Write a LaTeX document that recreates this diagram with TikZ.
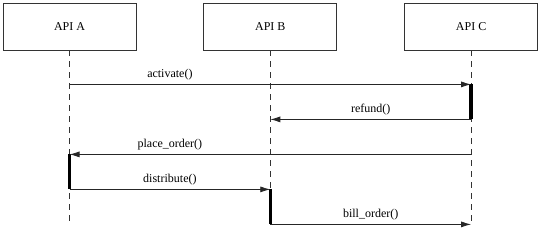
\documentclass[tikz,border=0pt]{standalone}
\usepackage{fontspec}
\setmainfont{Liberation Serif}
\usepackage{tikz}
\usetikzlibrary{arrows.meta, positioning}

\begin{document}
\begin{tikzpicture}[
  x=1pt, y=1pt,
  node distance=67pt,
  apibox/.style={rectangle, draw=black!80, line width=0.8pt, minimum width=133pt, minimum height=47pt, inner sep=0pt, font=\fontsize{12}{14}\selectfont},
  lifeline/.style={draw=black!80, line width=0.8pt, dash pattern=on 6pt off 5pt},
  msg/.style={draw=black!85, line width=0.8pt, -{Latex[length=10pt,width=6pt]}},
  msglabel/.style={above=0.5pt, font=\fontsize{12}{14}\selectfont},
  actbar/.style={draw=black, line width=3.5pt, xshift=-1pt}
]
\useasboundingbox (0,0) rectangle (540,-229);

% Participants
\node[apibox] (apia) at (69.5,-26.5) {API A};
\node[apibox, right=of apia] (apib) {API B};
\node[apibox, right=of apib] (apic) {API C};

% Lifeline ends
\coordinate[below=175pt of apia] (enda);
\coordinate[below=175pt of apib] (endb);
\coordinate[below=175pt of apic] (endc);

% Message points on the lifelines
\coordinate[below=34pt of apia] (a1);
\coordinate[below=34pt of apic] (c1);
\coordinate[below=69pt of apic] (c2);
\coordinate[below=69pt of apib] (b2);
\coordinate[below=104pt of apic] (c3);
\coordinate[below=104pt of apia] (a3);
\coordinate[below=139pt of apia] (a4);
\coordinate[below=139pt of apib] (b4);
\coordinate[below=174pt of apib] (b5);
\coordinate[below=174pt of apic] (c5);

% Lifelines
\draw[lifeline] (apia.south) -- (enda);
\draw[lifeline] (apib.south) -- (endb);
\draw[lifeline] (apic.south) -- (endc);

% Activation bars
\draw[actbar] (c1) -- (c2);
\draw[actbar] (a3) -- (a4);
\draw[actbar] (b4) -- (b5);

% Messages
\draw[msg] (a1) -- node[msglabel, pos=0.25] {activate()} (c1);
\draw[msg] (c2) -- node[msglabel, midway] {refund()} (b2);
\draw[msg] (c3) -- node[msglabel, pos=0.75] {place\_order()} (a3);
\draw[msg] (a4) -- node[msglabel, midway] {distribute()} (b4);
\draw[msg] (b5) -- node[msglabel, midway] {bill\_order()} (c5);

\end{tikzpicture}
\end{document}
